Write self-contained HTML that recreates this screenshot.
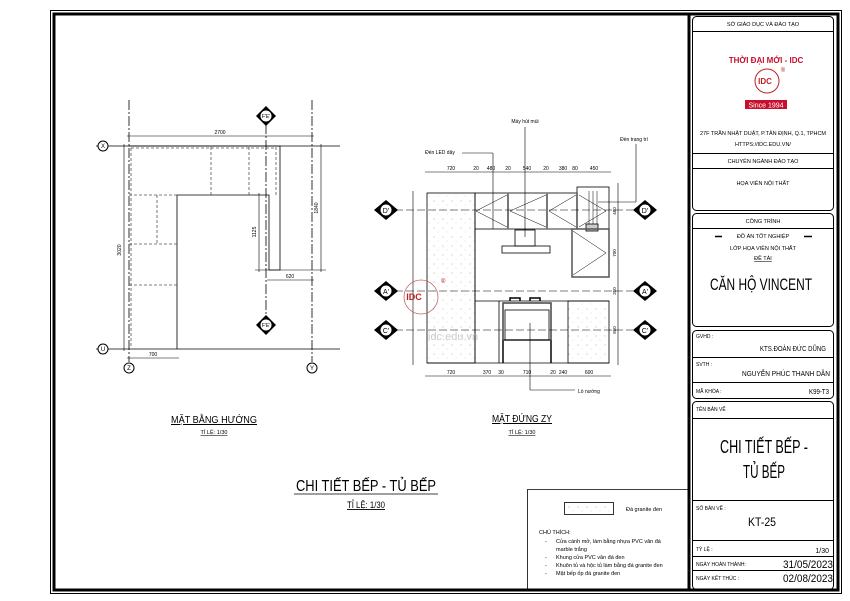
<!DOCTYPE html>
<html><head><meta charset="utf-8"><style>
html,body{margin:0;padding:0;background:#fff}
svg{display:block}
text{font-family:"Liberation Sans","Noto Sans CJK SC",sans-serif;fill:#000}
</style></head><body>
<svg width="850" height="601" viewBox="0 0 850 601" xmlns="http://www.w3.org/2000/svg">
<defs>
<pattern id="st" width="9" height="9" patternUnits="userSpaceOnUse">
<rect width="9" height="9" fill="#fff"/><circle cx="2" cy="3" r="0.5" fill="#999"/><circle cx="6" cy="7" r="0.4" fill="#aaa"/></pattern>
</defs>
<!-- frame -->
<rect x="50.5" y="10.5" width="791" height="583" fill="none" stroke="#000" stroke-width="1"/>
<rect x="54" y="14" width="784" height="576" fill="none" stroke="#000" stroke-width="3"/>
<line x1="689" y1="14" x2="689" y2="590" stroke="#000" stroke-width="3"/>

<!-- title block -->
<g fill="none" stroke="#000" stroke-width="1">
<rect x="692.5" y="16.5" width="141" height="194" rx="4"/>
<rect x="692.5" y="213.5" width="141" height="113" rx="4"/>
<rect x="692.5" y="330.5" width="141" height="68" rx="4"/>
<rect x="692.5" y="401.5" width="141" height="188" rx="4"/>
<line x1="693" y1="31.5" x2="834" y2="31.5"/>
<line x1="693" y1="153.5" x2="834" y2="153.5"/>
<line x1="693" y1="168.5" x2="834" y2="168.5"/>
<line x1="693" y1="228.5" x2="834" y2="228.5"/>
<line x1="693" y1="357.5" x2="834" y2="357.5"/>
<line x1="693" y1="382.5" x2="834" y2="382.5"/>
<line x1="693" y1="418.5" x2="834" y2="418.5"/>
<line x1="693" y1="500.5" x2="834" y2="500.5"/>
<line x1="693" y1="540.5" x2="834" y2="540.5"/>
<line x1="693" y1="556.5" x2="834" y2="556.5"/>
<line x1="693" y1="570.5" x2="834" y2="570.5"/>
<line x1="715" y1="236.5" x2="722" y2="236.5" stroke-width="1.5"/>
<line x1="804" y1="236.5" x2="812" y2="236.5" stroke-width="1.5"/>
</g>
<g text-anchor="middle" font-size="5.5">
<text x="763" y="26">SỞ GIÁO DỤC VÀ ĐÀO TẠO</text>
<text x="766" y="63" font-size="8" font-weight="bold" style="fill:#c8102e">THỜI ĐẠI MỚI - IDC</text>
<circle cx="767" cy="81" r="12" fill="none" stroke="#b22" stroke-width="1"/>
<text x="765" y="84" font-size="8" font-weight="bold" font-family="Liberation Serif" style="fill:#b22">IDC</text>
<text x="783" y="72" font-size="6" style="fill:#b22">®</text>
<rect x="745" y="100" width="42" height="9" fill="#c8102e"/>
<text x="766" y="107.5" font-size="7" style="fill:#fff">Since 1994</text>
<text x="763" y="135" textLength="126" lengthAdjust="spacingAndGlyphs">27F TRẦN NHẬT DUẬT, P.TÂN ĐỊNH, Q.1, TPHCM</text>
<text x="763" y="146">HTTPS://IDC.EDU.VN/</text>
<text x="763" y="163">CHUYÊN NGÀNH ĐÀO TẠO</text>
<text x="763" y="185">HỌA VIÊN NỘI THẤT</text>
<text x="763" y="223">CÔNG TRÌNH</text>
<text x="763" y="238">ĐỒ ÁN TỐT NGHIỆP</text>
<text x="763" y="250">LỚP HỌA VIÊN NỘI THẤT</text>
<text x="763" y="260" text-decoration="underline">ĐỀ TÀI</text>
<text x="761" y="290" font-size="17" textLength="102" lengthAdjust="spacingAndGlyphs">CĂN HỘ VINCENT</text>
<text x="764" y="453" font-size="18" textLength="88" lengthAdjust="spacingAndGlyphs">CHI TIẾT BẾP -</text>
<text x="764" y="478" font-size="18" textLength="42" lengthAdjust="spacingAndGlyphs">TỦ BẾP</text>
<text x="762" y="526" font-size="12" textLength="28" lengthAdjust="spacingAndGlyphs">KT-25</text>
</g>
<g font-size="5">
<text x="696" y="338">GVHD :</text>
<text x="696" y="366">SVTH :</text>
<text x="696" y="393">MÃ KHÓA :</text>
<text x="696" y="411">TÊN BẢN VẼ</text>
<text x="696" y="510">SỐ BẢN VẼ :</text>
<text x="696" y="551">TỶ LỆ :</text>
<text x="696" y="566">NGÀY HOÀN THÀNH:</text>
<text x="696" y="580">NGÀY KẾT THÚC :</text>
</g>
<g text-anchor="end">
<text x="826" y="351" font-size="7" textLength="66" lengthAdjust="spacingAndGlyphs">KTS.ĐOÀN ĐỨC DŨNG</text>
<text x="830" y="376" font-size="7" textLength="88" lengthAdjust="spacingAndGlyphs">NGUYỄN PHÚC THANH DÂN</text>
<text x="829" y="394" font-size="7" textLength="20" lengthAdjust="spacingAndGlyphs">K99-T3</text>
<text x="829" y="553" font-size="7">1/30</text>
<text x="833" y="568" font-size="11" textLength="50" lengthAdjust="spacingAndGlyphs">31/05/2023</text>
<text x="833" y="582" font-size="11" textLength="50" lengthAdjust="spacingAndGlyphs">02/08/2023</text>
</g>

<!-- PLAN -->
<g stroke="#000" fill="none" stroke-width="0.8">
<line x1="96" y1="146" x2="340" y2="146"/>
<line x1="96" y1="349" x2="340" y2="349"/>
<line x1="129" y1="100" x2="129" y2="362" stroke-dasharray="10,2,2,2"/>
<line x1="312" y1="100" x2="312" y2="362" stroke-dasharray="10,2,2,2"/>
<line x1="266" y1="124" x2="266" y2="318" stroke-dasharray="10,2,2,2"/>
<path d="M129 146H280V270H269V195H177V349"/>
<g stroke-dasharray="3,2" stroke="#555">
<line x1="211" y1="147" x2="211" y2="195"/><line x1="249" y1="147" x2="249" y2="195"/>
<line x1="276" y1="147" x2="276" y2="195"/><line x1="131" y1="148" x2="276" y2="148"/>
<line x1="131" y1="148" x2="131" y2="347"/>
<line x1="129" y1="195" x2="177" y2="195"/><line x1="157" y1="195" x2="157" y2="244"/>
<line x1="129" y1="244" x2="177" y2="244"/><line x1="129" y1="285" x2="177" y2="285"/>
</g>
<g stroke-width="0.6">
<line x1="127" y1="136" x2="314" y2="136"/><line x1="124" y1="144" x2="124" y2="351"/>
<line x1="321" y1="144" x2="321" y2="272"/><line x1="259" y1="193" x2="259" y2="272"/>
<line x1="267" y1="280" x2="314" y2="280"/><line x1="127" y1="358" x2="179" y2="358"/>
<line x1="255" y1="270" x2="326" y2="270"/>
</g>
</g>
<g font-size="5" text-anchor="middle">
<text x="220" y="134">2700</text><text x="290" y="278">620</text><text x="153" y="356">700</text>
<text x="121" y="250" transform="rotate(-90 121 250)">3020</text>
<text x="318" y="208" transform="rotate(-90 318 208)">1840</text>
<text x="256" y="232" transform="rotate(-90 256 232)">1125</text>
</g>
<g fill="#fff" stroke="#000" stroke-width="1">
<circle cx="103" cy="146" r="5"/><circle cx="103" cy="349" r="5"/>
<circle cx="129" cy="368" r="5"/><circle cx="312" cy="368" r="5"/>
</g>
<g font-size="6" text-anchor="middle"><text x="103" y="148">X</text><text x="103" y="351">U</text><text x="129" y="370">Z</text><text x="312" y="370">Y</text></g>
<g>
<path d="M266 106L276 116L266 126L256 116Z" fill="#000"/><circle cx="266" cy="116" r="6" fill="#fff" stroke="#000"/>
<text x="266" y="118" font-size="5" text-anchor="middle">F'E'</text>
<path d="M266 315L276 325L266 335L256 325Z" fill="#000"/><circle cx="266" cy="325" r="6" fill="#fff" stroke="#000"/>
<text x="266" y="327" font-size="5" text-anchor="middle">F'E'</text>
</g>

<!-- ELEVATION -->
<g stroke="#000" fill="none" stroke-width="0.8">
<rect x="427" y="193" width="48" height="170" fill="url(#st)"/>
<rect x="568" y="301" width="41" height="62" fill="url(#st)"/>
<rect x="475" y="193" width="102" height="36"/>
<rect x="577" y="187" width="32" height="42"/>
<line x1="508" y1="193" x2="508" y2="229" stroke-width="2" stroke="#777"/>
<line x1="547" y1="193" x2="547" y2="229" stroke-width="2" stroke="#777"/>
<line x1="577" y1="193" x2="577" y2="229" stroke-width="2" stroke="#777"/>
<path d="M507 195L476 211L507 227M546 195L510 211L546 227M576 195L549 211L576 227M579 195L606 211L579 227" stroke-width="0.5"/>
<path d="M589 191V225M593 191V225M597 191V225" stroke-width="0.5"/>
<rect x="586" y="224" width="12" height="7" fill="#ccc"/>
<rect x="572" y="229" width="37" height="48" stroke="#555" stroke-width="1.5"/>
<path d="M573 231L606 253L573 275" stroke-width="0.5"/>
<rect x="515" y="230" width="20" height="16"/><rect x="502" y="246" width="48" height="7"/>
<line x1="475" y1="301" x2="609" y2="301"/>
<line x1="475" y1="229" x2="475" y2="363"/>
<line x1="499" y1="301" x2="499" y2="363"/>
<rect x="503" y="303" width="48" height="37" stroke-width="1.5" stroke="#444"/>
<rect x="505" y="310" width="44" height="30"/>
<line x1="503" y1="340" x2="503" y2="363" stroke-width="2" stroke="#444"/><line x1="551" y1="340" x2="551" y2="363" stroke-width="2" stroke="#444"/>
<path d="M510 301V298H520V301M530 301V298H540V301" stroke-width="1.5"/>
<line x1="427" y1="363" x2="609" y2="363"/>
<g stroke-dasharray="8,3" stroke-width="0.6">
<line x1="395" y1="210" x2="633" y2="210"/><line x1="395" y1="291" x2="633" y2="291"/><line x1="395" y1="330" x2="633" y2="330"/>
</g>
<g stroke-width="0.6">
<line x1="425" y1="172" x2="611" y2="172"/><line x1="425" y1="376" x2="611" y2="376"/>
<line x1="413" y1="191" x2="413" y2="365"/><line x1="618" y1="183" x2="618" y2="365"/>
<line x1="462" y1="153" x2="493" y2="153"/><line x1="493" y1="153" x2="493" y2="229"/>
<line x1="525" y1="127" x2="525" y2="237"/>
<line x1="636" y1="144" x2="636" y2="202"/><line x1="636" y1="202" x2="598" y2="202"/>
<line x1="530" y1="323" x2="530" y2="390"/><line x1="530" y1="390" x2="575" y2="390"/>
</g>
</g>
<g font-size="5" text-anchor="middle">
<text x="451" y="170">720</text><text x="476" y="170">20</text><text x="491" y="170">480</text><text x="508" y="170">20</text>
<text x="527" y="170">540</text><text x="546" y="170">20</text><text x="563" y="170">380</text><text x="575" y="170">80</text><text x="594" y="170">450</text>
<text x="451" y="374">720</text><text x="487" y="374">370</text><text x="501" y="374">30</text><text x="527" y="374">710</text>
<text x="553" y="374">20</text><text x="563" y="374">240</text><text x="589" y="374">600</text>
<text x="525" y="123">Máy hút mùi</text><text x="440" y="154">Đèn LED dây</text>
<text x="634" y="141">Đèn trang trí</text><text x="589" y="393">Lò nướng</text>
</g>
<g font-size="4.5" text-anchor="middle">
<text x="616" y="211" transform="rotate(-90 616 211)">480</text>
<text x="616" y="253" transform="rotate(-90 616 253)">700</text>
<text x="616" y="330" transform="rotate(-90 616 330)">860</text>
<text x="616" y="291" transform="rotate(-90 616 291)">350</text>
</g>
<g font-size="7" text-anchor="middle">
<path d="M386 200L398 210L386 220L374 210Z" fill="#000"/><circle cx="386" cy="210" r="6" fill="#fff" stroke="#000"/><text x="386" y="213">D'</text>
<path d="M386 281L398 291L386 301L374 291Z" fill="#000"/><circle cx="386" cy="291" r="6" fill="#fff" stroke="#000"/><text x="386" y="294">A'</text>
<path d="M386 320L398 330L386 340L374 330Z" fill="#000"/><circle cx="386" cy="330" r="6" fill="#fff" stroke="#000"/><text x="386" y="333">C'</text>
<path d="M645 200L657 210L645 220L633 210Z" fill="#000"/><circle cx="645" cy="210" r="6" fill="#fff" stroke="#000"/><text x="645" y="213">D'</text>
<path d="M645 281L657 291L645 301L633 291Z" fill="#000"/><circle cx="645" cy="291" r="6" fill="#fff" stroke="#000"/><text x="645" y="294">A'</text>
<path d="M645 320L657 330L645 340L633 330Z" fill="#000"/><circle cx="645" cy="330" r="6" fill="#fff" stroke="#000"/><text x="645" y="333">C'</text>
</g>
<!-- watermark -->
<circle cx="421" cy="297" r="17" fill="none" stroke="#b66" stroke-width="0.8"/>
<text x="414" y="300" font-size="9" font-weight="bold" font-family="Liberation Serif" style="fill:#b22" text-anchor="middle">IDC</text>
<text x="441" y="283" font-size="6" style="fill:#b22">®</text>
<text x="428" y="340" font-size="11" style="fill:#ccc">idc.edu.vn</text>

<!-- titles -->
<g text-anchor="middle">
<text x="214" y="423" font-size="10" textLength="86" lengthAdjust="spacingAndGlyphs" text-decoration="underline">MẶT BẰNG HƯỚNG</text>
<text x="214" y="434" font-size="5.5" text-decoration="underline">TỈ LỆ: 1/30</text>
<text x="522" y="422" font-size="10" textLength="60" lengthAdjust="spacingAndGlyphs" text-decoration="underline">MẶT ĐỨNG ZY</text>
<text x="522" y="434" font-size="5.5" text-decoration="underline">TỈ LỆ: 1/30</text>
<text x="366" y="491" font-size="16" textLength="140" lengthAdjust="spacingAndGlyphs">CHI TIẾT BẾP - TỦ BẾP</text>
<line x1="294" y1="494" x2="438" y2="494" stroke="#000" stroke-width="0.8"/>
<text x="366" y="508" font-size="9" textLength="38" lengthAdjust="spacingAndGlyphs" text-decoration="underline">TỈ LỆ: 1/30</text>
</g>
<!-- legend -->
<path d="M527.5 590V489.5H689" fill="none" stroke="#000" stroke-width="0.8"/>
<rect x="564.5" y="502.5" width="49" height="12" fill="url(#st)" stroke="#000" stroke-width="0.8"/>
<g font-size="5.5">
<text x="626" y="511">Đá granite đen</text>
<text x="539" y="534">CHÚ THÍCH:</text>
<text x="545" y="543">-</text><text x="556" y="543">Cửa cánh mở, làm bằng nhựa PVC vân đá</text>
<text x="556" y="551">marble trắng</text>
<text x="545" y="559">-</text><text x="556" y="559">Khung cửa PVC vân đá đen</text>
<text x="545" y="567">-</text><text x="556" y="567">Khuôn tủ và hộc tủ làm bằng đá granite đen</text>
<text x="545" y="575">-</text><text x="556" y="575">Mặt bếp ốp đá granite đen</text>
</g>
</svg>
</body></html>
